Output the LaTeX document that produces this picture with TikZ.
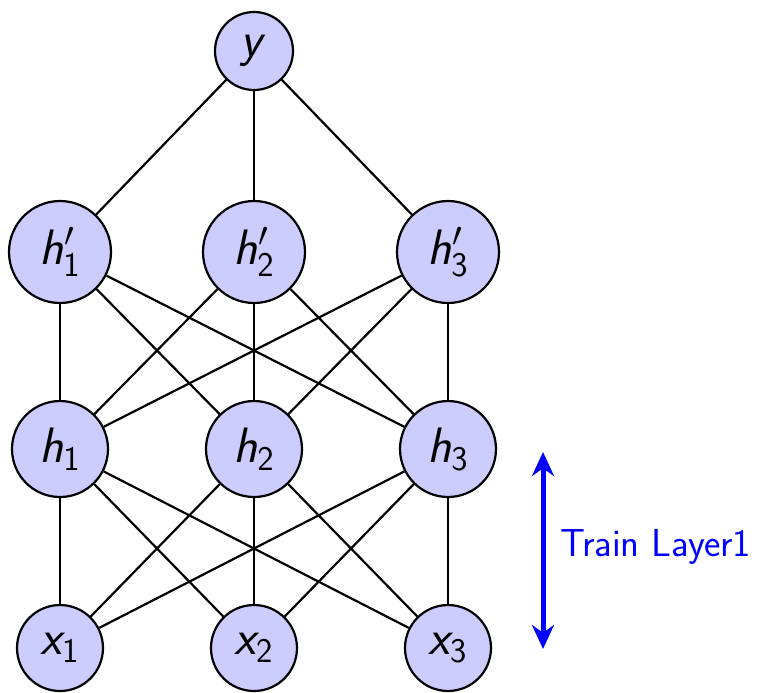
\documentclass[tikz,border=0pt]{standalone}
\usepackage{amsmath}
\usepackage{tikz}
\usetikzlibrary{arrows.meta}
\DeclareMathAlphabet{\mathsfsl}{OT1}{cmss}{m}{sl}

\begin{document}
\begin{tikzpicture}[
  x=0.5pt, y=-0.5pt,
  unit/.style={circle, draw, fill=blue!20, line width=1.1pt, inner sep=0pt, font=\fontsize{25}{30}\selectfont},
  small/.style={unit, minimum size=39pt},
  mid/.style={unit, minimum size=43pt},
  big/.style={unit, minimum size=48pt},
  wire/.style={line width=1.1pt},
  trainarr/.style={{Stealth[length=12pt,width=11pt]}-{Stealth[length=12pt,width=11pt]}, line width=2.5pt, blue}
]
\useasboundingbox (0,0) rectangle (759,692);

% node centres
\foreach \i/\px in {1/60,2/254,3/448}{
  \coordinate (cx\i) at (\px,648);
  \coordinate (ch\i) at (\px,449);
  \coordinate (chp\i) at (\px,252);
}

\node[mid] (x1) at (cx1) {$\mathsfsl{x}_{\mathsf{1}}$};
\node[mid] (x2) at (cx2) {$\mathsfsl{x}_{\mathsf{2}}$};
\node[mid] (x3) at (cx3) {$\mathsfsl{x}_{\mathsf{3}}$};
\node[big] (h1) at (ch1) {$\mathsfsl{h}_{\mathsf{1}}$};
\node[big] (h2) at (ch2) {$\mathsfsl{h}_{\mathsf{2}}$};
\node[big] (h3) at (ch3) {$\mathsfsl{h}_{\mathsf{3}}$};
\node[big, minimum size=51pt] (hp1) at (chp1) {$\mathsfsl{h}'_{\mathsf{1}}$};
\node[big, minimum size=51pt] (hp2) at (chp2) {$\mathsfsl{h}'_{\mathsf{2}}$};
\node[big, minimum size=51pt] (hp3) at (chp3) {$\mathsfsl{h}'_{\mathsf{3}}$};
\node[small] (y) at (254,51) {$\mathsfsl{y}$};

% full connections between layers
\foreach \i in {1,2,3}{
  \foreach \j in {1,2,3}{
    \draw[wire] (x\i) -- (h\j);
    \draw[wire] (h\i) -- (hp\j);
  }
  \draw[wire] (hp\i) -- (y);
}

\coordinate (top) at (543,452);
\coordinate (bot) at (543,649);
\draw[trainarr] (top) -- (bot);
\node[anchor=west, blue, font=\sffamily\fontsize{19.5}{22}\selectfont] (lbl) at (553,547) {Train Layer1};
\end{tikzpicture}
\end{document}
